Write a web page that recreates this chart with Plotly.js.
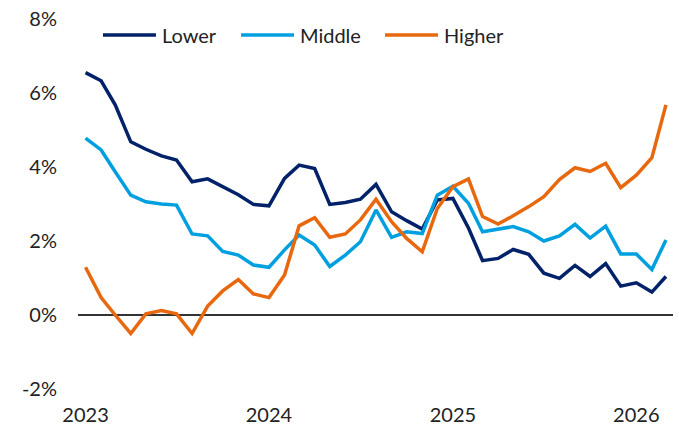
<!DOCTYPE html>
<html>
<head>
<meta charset="utf-8">
<script src="https://cdn.plot.ly/plotly-3.0.1.min.js"></script>
<style>
  html, body { margin: 0; padding: 0; background: #ffffff; }
  #chart { width: 679px; height: 434px; }
</style>
</head>
<body>
<div id="chart"></div>
<script>
// Monthly observations, Jan 2023 – Mar 2026
const months = [
  "2023-01-01","2023-02-01","2023-03-01","2023-04-01","2023-05-01","2023-06-01",
  "2023-07-01","2023-08-01","2023-09-01","2023-10-01","2023-11-01","2023-12-01",
  "2024-01-01","2024-02-01","2024-03-01","2024-04-01","2024-05-01","2024-06-01",
  "2024-07-01","2024-08-01","2024-09-01","2024-10-01","2024-11-01","2024-12-01",
  "2025-01-01","2025-02-01","2025-03-01","2025-04-01","2025-05-01","2025-06-01",
  "2025-07-01","2025-08-01","2025-09-01","2025-10-01","2025-11-01","2025-12-01",
  "2026-01-01","2026-02-01","2026-03-01"
];

const lower = [
  6.55, 6.33, 5.68, 4.68, 4.48, 4.30, 4.19, 3.60, 3.68, 3.48, 3.25, 2.99,
  2.95, 3.69, 4.05, 3.96, 2.99, 3.04, 3.13, 3.53, 2.79, 2.55, 2.32, 3.11,
  3.15, 2.35, 1.47, 1.53, 1.77, 1.64, 1.13, 0.99, 1.34, 1.04, 1.39, 0.78,
  0.87, 0.62, 1.04
];

const middle = [
  4.78, 4.46, 3.87, 3.24, 3.06, 3.00, 2.97, 2.19, 2.14, 1.72, 1.62, 1.35,
  1.29, 1.76, 2.16, 1.89, 1.31, 1.62, 1.98, 2.84, 2.10, 2.25, 2.20, 3.24,
  3.48, 3.02, 2.25, 2.32, 2.39, 2.25, 2.00, 2.14, 2.45, 2.08, 2.40, 1.65,
  1.65, 1.23, 2.03
];

const higher = [
  1.29, 0.47, 0.00, -0.50, 0.03, 0.12, 0.03, -0.50, 0.24, 0.65, 0.96, 0.57,
  0.47, 1.08, 2.41, 2.63, 2.10, 2.19, 2.57, 3.13, 2.52, 2.07, 1.71, 2.88,
  3.47, 3.68, 2.66, 2.46, 2.68, 2.93, 3.20, 3.66, 3.98, 3.88, 4.10, 3.44,
  3.78, 4.25, 5.68
];

const seriesNames = ["Lower", "Middle", "Higher"];
const seriesColors = ["#012169", "#00A0E0", "#E8680F"];

const yTickVals = [-2, 0, 2, 4, 6, 8];
const yTickText = ["-2%", "0%", "2%", "4%", "6%", "8%"];
const xTickVals = ["2023-01-01", "2024-01-01", "2025-01-01", "2026-01-01"];
const xTickText = ["2023", "2024", "2025", "2026"];

const FONT = "Lato, 'Open Sans', sans-serif";
const TEXT_COLOR = "#222222";

const values = [lower, middle, higher];
const traces = values.map((v, k) => ({
  type: "scatter",
  mode: "lines",
  name: seriesNames[k],
  x: months,
  y: v,
  line: { color: seriesColors[k], width: 3.5, shape: "linear" },
  hoverinfo: "x+y+name"
}));

// Legend row above the lines: coloured stroke followed by its label
const legendLineX = [[0.042, 0.131], [0.274, 0.363], [0.516, 0.605]];
const legendY = 0.957;
const shapes = legendLineX.map((pos, k) => ({
  type: "line",
  xref: "paper", yref: "paper",
  x0: pos[0], x1: pos[1], y0: legendY, y1: legendY,
  line: { color: seriesColors[k], width: 3.5 }
}));
const annotations = legendLineX.map((pos, k) => ({
  xref: "paper", yref: "paper",
  x: pos[1] + 0.006, y: legendY,
  xanchor: "left", yanchor: "middle",
  text: seriesNames[k],
  showarrow: false,
  font: { family: FONT, size: 20, color: TEXT_COLOR }
}));

const layout = {
  width: 679,
  height: 434,
  margin: { l: 78, r: 6, t: 19, b: 45, pad: 0 },
  paper_bgcolor: "#ffffff",
  plot_bgcolor: "#ffffff",
  showlegend: false,
  font: { family: FONT, size: 20, color: TEXT_COLOR },
  xaxis: {
    type: "date",
    range: ["2022-12-17", "2026-03-15"],
    tickvals: xTickVals,
    ticktext: xTickText,
    showgrid: false,
    zeroline: false,
    showline: false,
    ticks: "",
    ticklabelstandoff: 12,
    tickfont: { family: FONT, size: 20, color: TEXT_COLOR }
  },
  yaxis: {
    range: [-2, 8],
    tickvals: yTickVals,
    ticktext: yTickText,
    showgrid: false,
    zeroline: true,
    zerolinecolor: "#333333",
    zerolinewidth: 2,
    showline: false,
    ticks: "",
    ticklabelstandoff: 20,
    tickfont: { family: FONT, size: 20, color: TEXT_COLOR }
  },
  shapes: shapes,
  annotations: annotations
};

Plotly.newPlot("chart", traces, layout, { displayModeBar: false, staticPlot: true });
</script>
</body>
</html>
